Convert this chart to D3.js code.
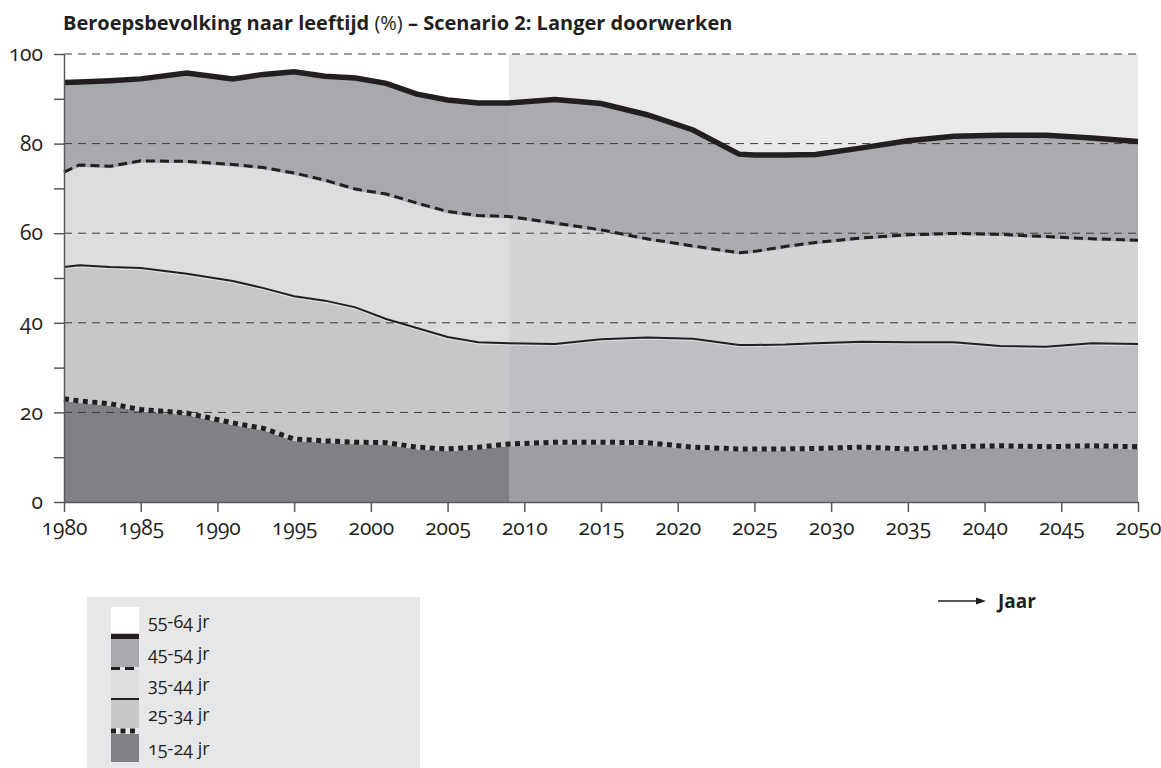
<!DOCTYPE html>
<html>
<head>
<meta charset="utf-8">
<script src="https://cdnjs.cloudflare.com/ajax/libs/d3/7.8.5/d3.min.js"></script>
<style>
	body { margin: 0; background: #ffffff; }
	svg text { font-family: "Open Sans", Lato, sans-serif; fill: #231f20; }
	.num { font-variant-numeric: oldstyle-nums; font-feature-settings: "onum" 1; }
</style>
</head>
<body>
<script>

// years (2009 onwards is the projection)
var years = [1980, 1981, 1983, 1985, 1988, 1991, 1993, 1995, 1997, 1999, 2001, 2003, 2005, 2007, 2009,
	2012, 2015, 2018, 2021, 2024, 2025, 2027, 2029, 2032, 2035, 2038, 2041, 2044, 2047, 2050];

// share of the labour force per age group (%)
var jr15_24 = [22.6, 22.1, 21.5, 20.2, 19.4, 17.2, 16.0, 13.6, 13.2, 12.9, 12.8, 11.8, 11.4, 11.8, 12.5,
	12.9, 12.9, 12.8, 11.8, 11.4, 11.4, 11.4, 11.5, 11.8, 11.4, 11.9, 12.1, 11.9, 12.1, 11.9];
var jr25_34 = [29.4, 30.3, 30.5, 31.6, 31.1, 31.7, 31.3, 31.9, 31.3, 30.1, 27.6, 26.6, 25.0, 23.4, 22.5,
	21.9, 23.0, 23.5, 24.2, 23.2, 23.2, 23.3, 23.5, 23.5, 23.8, 23.3, 22.3, 22.3, 22.9, 22.9];
var jr35_44 = [21.2, 22.4, 22.5, 23.9, 25.1, 26.0, 26.9, 27.5, 26.9, 26.4, 27.9, 27.9, 28.0, 28.3, 28.3,
	27.0, 24.4, 22.0, 20.7, 20.6, 20.9, 21.9, 22.5, 23.2, 24.0, 24.3, 24.9, 24.6, 23.3, 23.2];
var jr45_54 = [20.0, 18.5, 19.1, 18.3, 19.7, 19.1, 20.8, 22.6, 23.2, 24.8, 24.7, 24.3, 24.9, 25.1, 25.3,
	27.6, 28.2, 27.7, 25.9, 22.0, 21.5, 20.4, 19.6, 20.1, 21.0, 21.7, 22.1, 22.6, 22.5, 22.0];
var jr55_64 = [6.8, 6.7, 6.4, 6.0, 4.7, 6.0, 5.0, 4.4, 5.4, 5.8, 7.0, 9.4, 10.7, 11.4, 11.4,
	10.6, 11.5, 14.0, 17.4, 22.8, 23.0, 23.0, 22.9, 21.4, 19.8, 18.8, 18.6, 18.6, 19.2, 20.0];

var groups = ["15-24 jr", "25-34 jr", "35-44 jr", "45-54 jr", "55-64 jr"];
var projectionStart = 2009;

// tick labels
var xTickValues = [1980, 1985, 1990, 1995, 2000, 2005, 2010, 2015, 2020, 2025, 2030, 2035, 2040, 2045, 2050];
var yTickValues = [0, 10, 20, 30, 40, 50, 60, 70, 80, 90, 100];
var yLabelValues = [0, 20, 40, 60, 80, 100];

window.onload = function() {
	drawChart();
};

function drawChart() {

	var width = 1161, height = 768;
	var left = 64, right = 1138, top = 54, bottom = 502;

	// fill colours: observed part and projected part
	var histColors = ["#808184", "#c6c7c9", "#dcdddf", "#a8a9ac", "#ffffff"];
	var projColors = ["#9d9ea1", "#bebfc2", "#d3d4d6", "#aaabae", "#e9e9ea"];

	// boundary line above each age group (none above 55-64)
	var lineStyles = [
		{width: 5, dash: "5,4.5"},
		{width: 2, dash: null},
		{width: 3, dash: "9,5"},
		{width: 5.5, dash: null}
	];

	// build the table for the stack
	var series = [jr15_24, jr25_34, jr35_44, jr45_54, jr55_64];
	var table = years.map(function(yr, i) {
		var row = {year: yr};
		groups.forEach(function(g, k) { row[g] = series[k][i]; });
		return row;
	});
	var stacked = d3.stack().keys(groups)(table);

	var svg = d3.select("body")
				.append("svg")
				.attr("width", width)
				.attr("height", height);

	var xScale = d3.scaleLinear().domain([1980, 2050]).range([left, right]);
	var yScale = d3.scaleLinear().domain([0, 100]).range([bottom, top]);

	// clip paths for the observed and projected periods
	var defs = svg.append("defs");
	defs.append("clipPath").attr("id", "clipHist")
		.append("rect")
		.attr("x", left).attr("y", top)
		.attr("width", xScale(projectionStart) - left)
		.attr("height", bottom - top);
	defs.append("clipPath").attr("id", "clipProj")
		.append("rect")
		.attr("x", xScale(projectionStart)).attr("y", top)
		.attr("width", right - xScale(projectionStart) + 1)
		.attr("height", bottom - top);

	var area = d3.area()
				 .x(function(d) { return xScale(d.data.year); })
				 .y0(function(d) { return yScale(d[0]); })
				 .y1(function(d) { return yScale(d[1]); });

	// the top group is filled up to 100 %
	var topArea = d3.area()
				 .x(function(d) { return xScale(d.data.year); })
				 .y0(function(d) { return yScale(d[0]); })
				 .y1(yScale(100));

	[["clipHist", histColors], ["clipProj", projColors]].forEach(function(part) {
		var g = svg.append("g").attr("clip-path", "url(#" + part[0] + ")");
		g.selectAll("path")
		 .data(stacked)
		 .enter()
		 .append("path")
		 .attr("d", function(d, i) { return i == 4 ? topArea(d) : area(d); })
		 .style("fill", function(d, i) { return part[1][i]; });
	});

	// dashed gridlines
	svg.append("g")
	   .selectAll("line")
	   .data(yLabelValues.filter(function(v) { return v > 0; }))
	   .enter()
	   .append("line")
	   .attr("x1", left).attr("x2", right)
	   .attr("y1", function(d) { return yScale(d); })
	   .attr("y2", function(d) { return yScale(d); })
	   .style("stroke", "#3a3a3c")
	   .style("stroke-width", 1)
	   .style("stroke-dasharray", "8,6");

	// boundary lines between the age groups
	var line = d3.line()
				 .x(function(d) { return xScale(d.data.year); })
				 .y(function(d) { return yScale(d[1]); });

	svg.append("g")
	   .selectAll("path")
	   .data(stacked.slice(0, 4))
	   .enter()
	   .append("path")
	   .attr("d", line)
	   .attr("transform", "translate(0,-2)")
	   .style("fill", "none")
	   .style("stroke", "#231f20")
	   .style("stroke-width", function(d, i) { return lineStyles[i].width; })
	   .style("stroke-dasharray", function(d, i) { return lineStyles[i].dash; });

	// y axis
	var yAxis = svg.append("g")
				   .attr("transform", "translate(" + left + ",0)")
				   .call(d3.axisLeft(yScale)
						   .tickValues(yTickValues)
						   .tickSize(10)
						   .tickSizeOuter(0)
						   .tickPadding(11)
						   .tickFormat(function(d) { return yLabelValues.indexOf(d) >= 0 ? d : ""; }));

	// x axis
	var xAxis = svg.append("g")
				   .attr("transform", "translate(0," + bottom + ")")
				   .call(d3.axisBottom(xScale)
						   .tickValues(xTickValues)
						   .tickSize(10)
						   .tickSizeOuter(0)
						   .tickFormat(d3.format("d")));

	xAxis.selectAll("text").attr("dy", null).attr("y", 33);

	[xAxis, yAxis].forEach(function(ax) {
		ax.select(".domain").style("stroke", "#58595b").style("stroke-width", 1.5);
		ax.selectAll(".tick line").style("stroke", "#58595b").style("stroke-width", 1.5);
		ax.selectAll("text")
		  .style("font-size", "21px")
		  .style("fill", "#231f20")
		  .style("font-family", "'Open Sans', Lato, sans-serif")
		  .style("font-variant-numeric", "oldstyle-nums")
		  .style("font-feature-settings", "'onum' 1");
	});

	// title
	var title = svg.append("text")
				   .attr("x", 63)
				   .attr("y", 30)
				   .style("font-size", "20px");
	title.append("tspan").style("font-weight", "bold").text("Beroepsbevolking naar leeftijd");
	title.append("tspan").text(" (%) ");
	title.append("tspan").style("font-weight", "bold").text("\u2013 Scenario 2: Langer doorwerken");

	// "Jaar" label with arrow
	svg.append("line")
	   .attr("x1", 938).attr("x2", 978)
	   .attr("y1", 601).attr("y2", 601)
	   .style("stroke", "#231f20")
	   .style("stroke-width", 1.3);
	svg.append("path")
	   .attr("d", "M976,597.5 L986,601 L976,604.5 Z")
	   .style("fill", "#231f20");
	svg.append("text")
	   .attr("x", 998)
	   .attr("y", 608)
	   .style("font-size", "19px")
	   .style("font-weight", "bold")
	   .text("Jaar");

	// legend
	var legend = svg.append("g");
	legend.append("rect")
		  .attr("x", 87).attr("y", 597)
		  .attr("width", 333).attr("height", 171)
		  .style("fill", "#e6e7e8");

	var rowTop = [607, 639, 670, 700, 734];
	var rowBottom = [634, 667, 698, 728, 762];
	var order = [4, 3, 2, 1, 0];

	order.forEach(function(k, r) {
		legend.append("rect")
			  .attr("x", 111).attr("y", rowTop[r])
			  .attr("width", 28).attr("height", rowBottom[r] - rowTop[r])
			  .style("fill", histColors[k]);
		legend.append("text")
			  .attr("class", "num")
			  .attr("x", 148)
			  .attr("y", rowTop[r] + 21)
			  .style("font-size", "18px")
			  .text(groups[k]);
		// line under the swatch (boundary to the group below)
		if (k > 0) {
			var st = lineStyles[k - 1];
			var ly = (rowBottom[r] + rowTop[r + 1]) / 2;
			legend.append("line")
				  .attr("x1", 111).attr("x2", 139)
				  .attr("y1", ly).attr("y2", ly)
				  .style("stroke", "#231f20")
				  .style("stroke-width", st.width)
				  .style("stroke-dasharray", st.dash);
		}
	});
}
</script>
</body>
</html>
